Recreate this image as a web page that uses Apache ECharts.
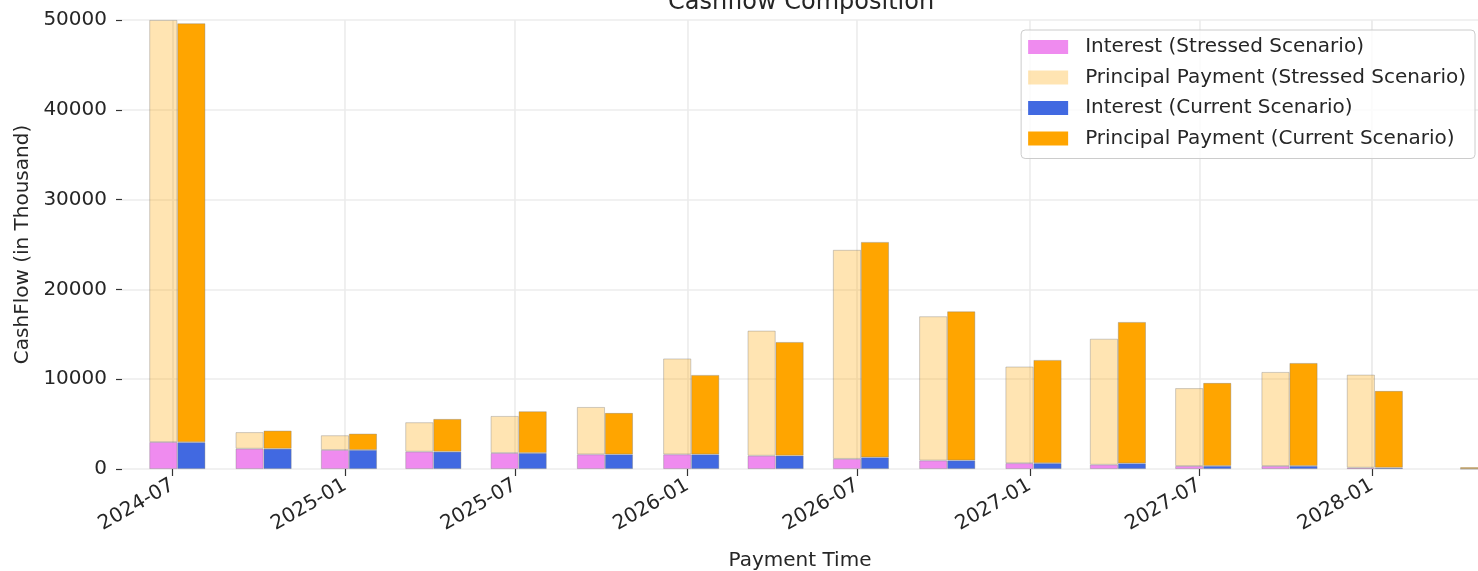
<!DOCTYPE html>
<html>
<head>
<meta charset="utf-8">
<script src="https://cdn.jsdelivr.net/npm/echarts@6/dist/echarts.min.js"></script>
<style>
html,body{margin:0;padding:0;background:#fff;}
#chart{width:1478px;height:571px;}
</style>
</head>
<body>
<div id="chart"></div>
<script>
// Payment dates (quarterly)
const paymentDates = ['2024-07-06','2024-10-06','2025-01-05','2025-04-05','2025-07-05','2025-10-05',
  '2026-01-05','2026-04-05','2026-07-05','2026-10-05','2027-01-05','2027-04-05',
  '2027-07-05','2027-10-05','2028-01-04','2028-04-04'];
// Values in thousand
const interestStressed  = [3000, 2260, 2120, 1930, 1780, 1630, 1630, 1480, 1130, 950, 650, 480, 330, 330, 150, null];
const principalStressed = [47000, 1840, 1630, 3270, 4120, 5270, 10670, 13920, 23270, 16050, 10750, 14020, 8670, 10470, 10350, null];
const interestCurrent   = [2980, 2260, 2120, 1930, 1780, 1630, 1630, 1490, 1300, 960, 650, 630, 340, 340, 150, 20];
const principalCurrent  = [46650, 2010, 1815, 3640, 4645, 4610, 8840, 12650, 23980, 16590, 11490, 15740, 9240, 11460, 8540, 180];
// Tick labels
const xTickLabels = ['2024-07','2025-01','2025-07','2026-01','2026-07','2027-01','2027-07','2028-01'];
const seriesNames = ['Interest (Stressed Scenario)','Principal Payment (Stressed Scenario)',
  'Interest (Current Scenario)','Principal Payment (Current Scenario)'];
// Visible time window of the x axis
const xStart = '2024-05-08', xEnd = '2028-04-23';

const FONT = 'DejaVu Sans';
const TXT = '#262626';
const pair = (vals) => paymentDates.map((d, i) => [d, vals[i]]);
const border = {borderColor: 'rgba(120,120,120,0.45)', borderWidth: 0.8};

function barSeries(name, stack, color, vals) {
  return {
    name: name, type: 'bar', stack: stack, barWidth: 28, barGap: '0%',
    itemStyle: Object.assign({color: color}, border),
    emphasis: {disabled: true},
    data: pair(vals)
  };
}

const chart = echarts.init(document.getElementById('chart'), null, {renderer: 'canvas'});
const tA = echarts.time.parse(xStart).getTime();
const tB = echarts.time.parse(xEnd).getTime();

chart.setOption({
  animation: false,
  backgroundColor: '#ffffff',
  textStyle: {fontFamily: FONT},
  title: {
    text: 'Cashflow Composition', left: 668, top: -9, padding: 0,
    textStyle: {fontFamily: FONT, fontSize: 24, fontWeight: 'normal', color: TXT}
  },
  legend: {
    orient: 'vertical', right: 3, top: 30,
    padding: [7, 9, 10, 7],
    icon: 'rect',
    itemWidth: 40, itemHeight: 14, itemGap: 10.5,
    backgroundColor: 'rgba(255,255,255,0.8)',
    borderColor: '#cccccc', borderWidth: 1, borderRadius: 4,
    itemStyle: {borderWidth: 0},
    textStyle: {fontFamily: FONT, fontSize: 20, color: TXT, lineHeight: 20, padding: [0, 0, 0, 12]},
    data: seriesNames
  },
  grid: {left: 122, right: 0, top: 20, bottom: 102, containLabel: false, outerBoundsMode: 'none'},
  xAxis: {
    type: 'time',
    min: tA, max: tB,
    name: 'Payment Time', nameLocation: 'middle', nameGap: 82,
    nameTextStyle: {fontFamily: FONT, fontSize: 20, color: TXT},
    axisLine: {show: false},
    axisTick: {show: true, length: 7, lineStyle: {color: '#333', width: 1.2}, customValues: xTickLabels},
    axisLabel: {
      customValues: xTickLabels, formatter: '{yyyy}-{MM}', rotate: 30, margin: 15,
      fontFamily: FONT, fontSize: 20, color: TXT, hideOverlap: false
    },
    splitLine: {show: true, lineStyle: {color: '#ececec', width: 1.6}}
  },
  yAxis: {
    type: 'value', min: 0, max: 50000, interval: 10000,
    name: 'CashFlow (in Thousand)', nameLocation: 'middle', nameGap: 86, nameRotate: 90,
    nameTextStyle: {fontFamily: FONT, fontSize: 20, color: TXT},
    axisLine: {show: false},
    axisTick: {show: true, length: 6, lineStyle: {color: '#333', width: 1.2}},
    axisLabel: {fontFamily: FONT, fontSize: 20, color: TXT, margin: 15, formatter: (v) => String(v)},
    splitLine: {show: true, lineStyle: {color: '#ececec', width: 1.6}}
  },
  series: [
    barSeries(seriesNames[0], 'stressed', 'rgba(238,130,238,0.93)', interestStressed),
    barSeries(seriesNames[1], 'stressed', 'rgba(255,165,0,0.3)', principalStressed),
    barSeries(seriesNames[2], 'current', '#4169e1', interestCurrent),
    barSeries(seriesNames[3], 'current', '#ffa500', principalCurrent)
  ]
});

// The library widens a bar axis to fit the bars; compensate so the visible
// window is exactly [xStart, xEnd].
function calibrate() {
  let mn = tA, mx = tB;
  for (let k = 0; k < 4; k++) {
    let ext;
    try {
      ext = chart.getModel().getComponent('xAxis', 0).axis.scale.getExtent();
    } catch (e) { return; }
    const R = ext[1] - ext[0];
    const a = (mn - ext[0]) / R, b = (ext[1] - mx) / R;
    if (Math.abs(ext[0] - tA) < 3600e3 && Math.abs(ext[1] - tB) < 3600e3) break;
    mn = tA + a * (tB - tA);
    mx = tB - b * (tB - tA);
    chart.setOption({xAxis: {min: mn, max: mx}});
  }
}
calibrate();
</script>
</body>
</html>
